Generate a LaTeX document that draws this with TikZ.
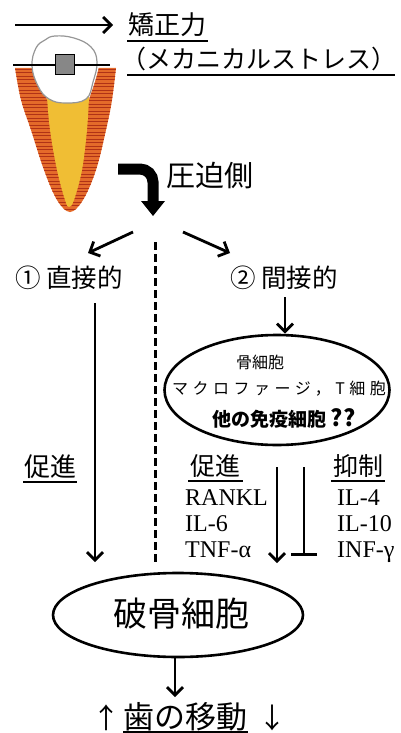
\documentclass[tikz,border=0pt]{standalone}
\usepackage{fontspec}
\setmainfont{Liberation Serif}
\newfontfamily\jp{Noto Sans CJK JP}
\newfontfamily\jpwide[LetterSpace=28]{Noto Sans CJK JP}
\usetikzlibrary{arrows.meta,shapes.geometric,calc}

\definecolor{gumorange}{RGB}{228,106,42}
\definecolor{gumstripe}{RGB}{176,50,22}
\definecolor{rootyellow}{RGB}{240,190,52}
\definecolor{crownline}{RGB}{150,150,150}
\definecolor{bracketgrey}{RGB}{135,135,135}

% outer outline of the gum / bone band around the root
\newcommand\gumoutline{plot[smooth,tension=0.6] coordinates
  {(15,68) (21,100) (31,130) (44,170) (57,200) (70,212) (83,200) (96,170) (106,130) (112,100) (116,68)} -- cycle}

\begin{document}
\begin{tikzpicture}[x=1pt,y=-1pt,
  arr/.style={line width=2.8pt,-{Straight Barb[length=8pt,width=16pt,line width=2.8pt]}},
  inhib/.style={line width=2.8pt,-{Bar[width=26pt,line width=3.5pt]}},
  uline/.style={line width=1.2pt},
  dashline/.style={line width=3pt,dash pattern=on 8pt off 4pt},
  bubble/.style={ellipse,draw,line width=2.6pt,inner sep=0pt},
  jptext/.style={inner sep=0pt,font=\jp},
  cyto/.style={inner sep=0pt,anchor=base west,font=\fontsize{24}{24}\selectfont},
]
\useasboundingbox (0,0) rectangle (401,733);

% ---- tooth sketch ----
\fill[gumorange] \gumoutline;
\begin{scope}
  \clip \gumoutline;
  \foreach \yy in {69,72.5,...,214} \draw[gumstripe,line width=0.9pt] (0,\yy) -- (130,\yy);
\end{scope}
% socket opening above the root
\fill[white] (33,66) .. controls (37,82) and (44,92) .. (47,99) -- (89,99)
  .. controls (92,90) and (96,80) .. (99,66) -- cycle;
% root (pulp) inside the band
\fill[rootyellow] plot[smooth,tension=0.6] coordinates
  {(47,97) (50,130) (57,170) (65,200) (69,207) (74,200) (82,170) (87,130) (89,97)} -- cycle;
% crown
\draw[crownline,fill=white,line width=1.2pt] plot[smooth cycle,tension=0.7] coordinates
  {(55,36) (74,38) (91,47) (97,62) (93,82) (86,99) (66,103) (49,99) (38,86) (32,66) (36,48) (45,40)};
% archwire and bracket
\draw[line width=2.2pt] (13,65) -- (110,65);
\draw[fill=bracketgrey,line width=1pt] (55,55) rectangle (74,75);

% ---- applied force ----
\coordinate (forcestart) at (15,25);
\coordinate (forceend) at (113,25);
\draw[arr] (forcestart) -- (forceend);
\node[jptext,font=\jp\fontsize{26}{26}\selectfont] (force) at (167,25) {矯正力};
\draw[uline] (127,41) -- (208,41);
\node[jptext,font=\jp\fontsize{25}{25}\selectfont] (mech) at (259,59) {\kern-0.5em（メカニカルストレス）\kern-0.5em};
\draw[uline] (127,75) -- (395,75);

% ---- compression side ----
\coordinate (bendstart) at (118,169);
\coordinate (bendcorner) at (153,169);
\coordinate (bendend) at (153,203);
\draw[line width=11pt,rounded corners=13pt] (bendstart) -- (bendcorner) -- (bendend);
\fill (141,201) -- (165,201) -- (153,216) -- cycle;
\node[jptext,font=\jp\fontsize{29}{29}\selectfont] (press) at (210,176) {圧迫側};

% ---- split into two pathways ----
\coordinate (splitL) at (133,232);
\coordinate (splitR) at (183,232);
\node[jptext,font=\jp\fontsize{25.5}{25.5}\selectfont] (direct) at (69,278) {① 直接的};
\node[jptext,font=\jp\fontsize{25.5}{25.5}\selectfont] (indirect) at (284,278) {② 間接的};
\coordinate (directin) at (88,253);
\coordinate (indirectin) at (230,253);
\draw[arr] (splitL) -- (directin);
\draw[arr] (splitR) -- (indirectin);

\coordinate (dashtop) at (155,242);
\coordinate (dashbot) at (155,562);
\draw[dashline] (dashtop) -- (dashbot);

% ---- direct pathway ----
\coordinate (directout) at (95,303);
\coordinate (directend) at (95,562);
\draw[arr] (directout) -- (directend);
\node[jptext,font=\jp\fontsize{26}{26}\selectfont] (promoteL) at (50,467) {促進};
\draw[uline] (23,482) -- (77,482);

% ---- indirect pathway ----
\node[bubble,minimum width=225pt,minimum height=110pt] (cells) at (277,390) {};
\coordinate (indirectout) at (285,297);
\draw[arr] (indirectout) -- (cells.north -| indirectout);
\node[jptext,font=\jp\fontsize{16}{16}\selectfont] (osteocyte) at (260,362) {骨細胞};
\node[jptext,font=\jpwide\fontsize{16}{16}\selectfont] (macro) at (279,389) {マクロファージ，T細胞};
\node[jptext,font=\jp\bfseries\fontsize{19}{19}\selectfont] (immune) at (284,418) {他の免疫細胞 \fontsize{23}{23}\selectfont ??};

\node[jptext,font=\jp\fontsize{25}{25}\selectfont] (promoteR) at (215,466) {促進};
\draw[uline] (188,481) -- (243,481);
\node[jptext,font=\jp\fontsize{25}{25}\selectfont] (suppress) at (358,466) {抑制};
\draw[uline] (331,481) -- (385,481);

\node[cyto] (rankl) at (185,505) {RANKL};
\node[cyto] (il6) at (185,531) {IL-6};
\node[cyto] (tnf) at (185,557) {TNF-α};
\node[cyto] (il4) at (337,505) {IL-4};
\node[cyto] (il10) at (337,531) {IL-10};
\node[cyto] (inf) at (337,557) {INF-γ};

\coordinate (promtop) at (277,467);
\coordinate (promend) at (277,563);
\draw[arr] (promtop) -- (promend);
\coordinate (suptop) at (304,467);
\coordinate (supend) at (304,556);
\draw[inhib] (suptop) -- (supend);

% ---- osteoclast and tooth movement ----
\node[bubble,minimum width=250pt,minimum height=84pt] (oc) at (178,615) {};
\node[jptext,font=\jp\fontsize{34}{34}\selectfont] (oclabel) at (181,614) {破骨細胞};
\node[jptext,font=\jp\fontsize{31}{31}\selectfont] (move) at (185,717) {歯の移動};
\draw[uline] (123,732) -- (248,732);
\node[jptext,font=\jp\fontsize{28}{28}\selectfont] (up) at (106,718) {↑};
\node[jptext,font=\jp\fontsize{28}{28}\selectfont] (down) at (272,718) {↓};
\coordinate (movein) at (175,697);
\draw[arr] (oc.south -| movein) -- (movein);
\end{tikzpicture}
\end{document}
